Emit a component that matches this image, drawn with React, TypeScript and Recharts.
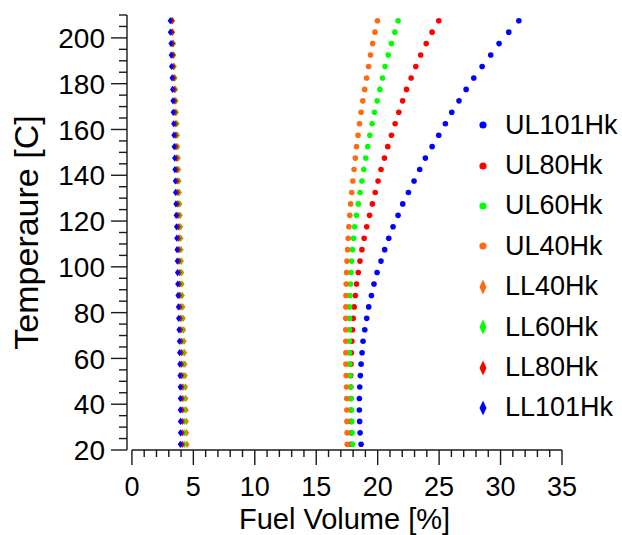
import { ScatterChart, Scatter, XAxis, YAxis, Legend, ReferenceLine } from 'recharts';

const FONT = '"Liberation Sans", Arial, sans-serif';
const AXIS = '#1a1a1a';

const BLUE = '#0000ff';
const RED = '#ff0000';
const GREEN = '#00ff00';
const ORANGE = '#ff6a10';

// temperature steps [C], shared by every series
const temps = [
  22.5, 27.5, 32.5, 37.5, 42.5, 47.5, 52.5, 57.5, 62.5, 67.5,
  72.5, 77.5, 82.5, 87.5, 92.5, 97.5, 102.5, 107.5, 112.5, 117.5,
  122.5, 127.5, 132.5, 137.5, 142.5, 147.5, 152.5, 157.5, 162.5, 167.5,
  172.5, 177.5, 182.5, 187.5, 192.5, 197.5, 202.5, 207.5,
];

// upper limits, fuel volume [%]
const ul101 = [
  18.65, 18.57, 18.53, 18.51, 18.51, 18.54, 18.59, 18.65, 18.73, 18.81,
  18.95, 19.11, 19.27, 19.49, 19.7, 19.95, 20.27, 20.57, 20.9, 21.25,
  21.66, 22.04, 22.5, 22.96, 23.42, 23.88, 24.43, 24.97, 25.51, 26.03,
  26.62, 27.2, 27.82, 28.5, 29.2, 29.88, 30.67, 31.49,
];
const ul80 = [
  17.84, 17.84, 17.83, 17.82, 17.82, 17.81, 17.81, 17.83, 17.86, 17.9,
  17.95, 18.01, 18.09, 18.18, 18.28, 18.42, 18.56, 18.72, 18.9, 19.11,
  19.34, 19.57, 19.8, 20.03, 20.27, 20.55, 20.82, 21.12, 21.42, 21.72,
  22.03, 22.35, 22.72, 23.1, 23.5, 23.95, 24.43, 24.97,
];
const ul60 = [
  17.96, 17.92, 17.89, 17.86, 17.82, 17.79, 17.76, 17.73, 17.71, 17.7,
  17.69, 17.7, 17.71, 17.74, 17.78, 17.83, 17.88, 17.95, 18.04, 18.13,
  18.27, 18.42, 18.57, 18.72, 18.87, 19.03, 19.19, 19.36, 19.55, 19.74,
  19.96, 20.18, 20.39, 20.6, 20.86, 21.12, 21.4, 21.66,
];
const ul40 = [
  17.52, 17.51, 17.5, 17.49, 17.48, 17.46, 17.44, 17.42, 17.41, 17.4,
  17.4, 17.4, 17.41, 17.42, 17.44, 17.47, 17.5, 17.55, 17.6, 17.66,
  17.73, 17.8, 17.89, 17.98, 18.08, 18.18, 18.28, 18.4, 18.52, 18.65,
  18.79, 18.94, 19.1, 19.26, 19.42, 19.59, 19.78, 19.98,
];

// lower limits, fuel volume [%]
const ll40 = [
  4.48, 4.45, 4.43, 4.41, 4.39, 4.36, 4.33, 4.31, 4.28, 4.25,
  4.21, 4.17, 4.14, 4.1, 4.08, 4.05, 4.02, 4.0, 3.98, 3.96,
  3.93, 3.9, 3.87, 3.84, 3.81, 3.78, 3.73, 3.7, 3.67, 3.62,
  3.59, 3.55, 3.5, 3.44, 3.4, 3.38, 3.32, 3.31,
];
const ll60 = [
  4.27, 4.27, 4.26, 4.24, 4.23, 4.21, 4.19, 4.17, 4.15, 4.12,
  4.09, 4.06, 4.03, 4.0, 3.98, 3.96, 3.93, 3.91, 3.89, 3.87,
  3.84, 3.82, 3.79, 3.76, 3.73, 3.71, 3.67, 3.64, 3.62, 3.57,
  3.55, 3.52, 3.47, 3.42, 3.39, 3.37, 3.31, 3.29,
];
const ll80 = [
  4.1, 4.1, 4.1, 4.09, 4.08, 4.07, 4.05, 4.04, 4.02, 4.0,
  3.97, 3.94, 3.92, 3.89, 3.87, 3.85, 3.83, 3.81, 3.79, 3.77,
  3.74, 3.72, 3.69, 3.67, 3.64, 3.62, 3.58, 3.56, 3.54, 3.5,
  3.48, 3.45, 3.41, 3.36, 3.34, 3.32, 3.27, 3.26,
];
const ll101 = [
  3.94, 3.95, 3.95, 3.94, 3.94, 3.93, 3.91, 3.9, 3.88, 3.86,
  3.83, 3.8, 3.78, 3.75, 3.73, 3.71, 3.69, 3.67, 3.65, 3.63,
  3.6, 3.58, 3.55, 3.53, 3.5, 3.48, 3.44, 3.42, 3.4, 3.36,
  3.34, 3.31, 3.27, 3.22, 3.2, 3.18, 3.13, 3.12,
];

const xTicks = [
  0, 1, 2, 3, 4, 5, 6, 7, 8, 9, 10, 11, 12, 13, 14, 15, 16, 17,
  18, 19, 20, 21, 22, 23, 24, 25, 26, 27, 28, 29, 30, 31, 32, 33, 34, 35,
];
const yTicks = [
  20, 25, 30, 35, 40, 45, 50, 55, 60, 65, 70, 75, 80, 85, 90, 95, 100, 105,
  110, 115, 120, 125, 130, 135, 140, 145, 150, 155, 160, 165, 170, 175,
  180, 185, 190, 195, 200, 205, 210,
];

type Kind = 'circle' | 'diamond';

const series: { name: string; color: string; values: number[]; kind: Kind }[] = [
  { name: 'UL101Hk', color: BLUE, values: ul101, kind: 'circle' },
  { name: 'UL80Hk', color: RED, values: ul80, kind: 'circle' },
  { name: 'UL60Hk', color: GREEN, values: ul60, kind: 'circle' },
  { name: 'UL40Hk', color: ORANGE, values: ul40, kind: 'circle' },
  { name: 'LL40Hk', color: ORANGE, values: ll40, kind: 'diamond' },
  { name: 'LL60Hk', color: GREEN, values: ll60, kind: 'diamond' },
  { name: 'LL80Hk', color: RED, values: ll80, kind: 'diamond' },
  { name: 'LL101Hk', color: BLUE, values: ll101, kind: 'diamond' },
];

function makeShape(kind: Kind, color: string) {
  return (p: any) => {
    const { cx, cy } = p;
    if (kind === 'circle') return <circle cx={cx} cy={cy} r={2.8} fill={color} />;
    return (
      <polygon
        points={`${cx},${cy - 3.6} ${cx + 2.6},${cy} ${cx},${cy + 3.6} ${cx - 2.6},${cy}`}
        fill={color}
      />
    );
  };
}

function XTick({ x, y, payload }: any) {
  const major = payload.value % 5 === 0;
  return (
    <g>
      <line x1={x} y1={y} x2={x} y2={y + (major ? 15 : 7)} stroke={AXIS} strokeWidth={1.4} />
      {major && (
        <text x={x} y={y + 46} textAnchor="middle" fontSize={27} fontFamily={FONT} fill="#000">
          {payload.value}
        </text>
      )}
    </g>
  );
}

function YTick({ x, y, payload }: any) {
  const major = payload.value % 20 === 0;
  return (
    <g>
      <line x1={x - (major ? 16 : 8)} y1={y} x2={x} y2={y} stroke={AXIS} strokeWidth={1.4} />
      {major && (
        <text x={x - 22} y={y} dy="0.36em" textAnchor="end" fontSize={28} fontFamily={FONT} fill="#000">
          {payload.value}
        </text>
      )}
    </g>
  );
}

function LegendBox() {
  return (
    <div style={{ fontFamily: FONT, fontSize: 27, color: '#000' }}>
      {series.map((s) => (
        <div key={s.name} style={{ display: 'flex', alignItems: 'center', height: 40.4 }}>
          <svg width={16} height={18}>
            {s.kind === 'circle' ? (
              <circle cx={8} cy={9} r={3.6} fill={s.color} />
            ) : (
              <polygon points="8,1.5 11.5,9 8,16.5 4.5,9" fill={s.color} />
            )}
          </svg>
          <span style={{ marginLeft: 14, lineHeight: 1 }}>{s.name}</span>
        </div>
      ))}
    </div>
  );
}

export default function App() {
  return (
    <div style={{ position: 'absolute', left: 0, top: 0, background: '#fff' }}>
      <ScatterChart width={622} height={535} margin={{ top: 15, right: 60, bottom: 0, left: 0 }}>
        <XAxis
          type="number"
          dataKey="x"
          domain={[-0.4, 35]}
          allowDataOverflow
          ticks={xTicks}
          interval={0}
          height={85}
          tickSize={0}
          tickMargin={0}
          tickLine={false}
          axisLine={false}
          tick={<XTick />}
          label={{
            value: 'Fuel Volume [%]',
            position: 'insideBottom',
            offset: 6,
            style: { fontSize: 29, fontFamily: FONT, fill: '#000' },
          }}
        />
        <YAxis
          type="number"
          dataKey="y"
          domain={[20, 210]}
          allowDataOverflow
          ticks={yTicks}
          interval={0}
          width={127}
          tickSize={0}
          tickMargin={0}
          tickLine={false}
          axisLine={{ stroke: AXIS, strokeWidth: 1.4 }}
          tick={<YTick />}
          label={{
            value: 'Temperaure [C]',
            angle: -90,
            position: 'insideLeft',
            offset: 26,
            style: { fontSize: 34, fontFamily: FONT, fill: '#000', textAnchor: 'middle' },
          }}
        />
        <ReferenceLine
          segment={[
            { x: 0, y: 20 },
            { x: 35, y: 20 },
          ]}
          stroke={AXIS}
          strokeWidth={1.4}
        />
        {series.map((s) => (
          <Scatter
            key={s.name}
            name={s.name}
            data={s.values.map((v, i) => ({ x: v, y: temps[i] }))}
            fill={s.color}
            shape={makeShape(s.kind, s.color)}
            isAnimationActive={false}
          />
        ))}
        <Legend
          layout="vertical"
          align="center"
          verticalAlign="middle"
          wrapperStyle={{ left: 475, top: 105, width: 147 }}
          content={() => <LegendBox />}
        />
      </ScatterChart>
    </div>
  );
}
